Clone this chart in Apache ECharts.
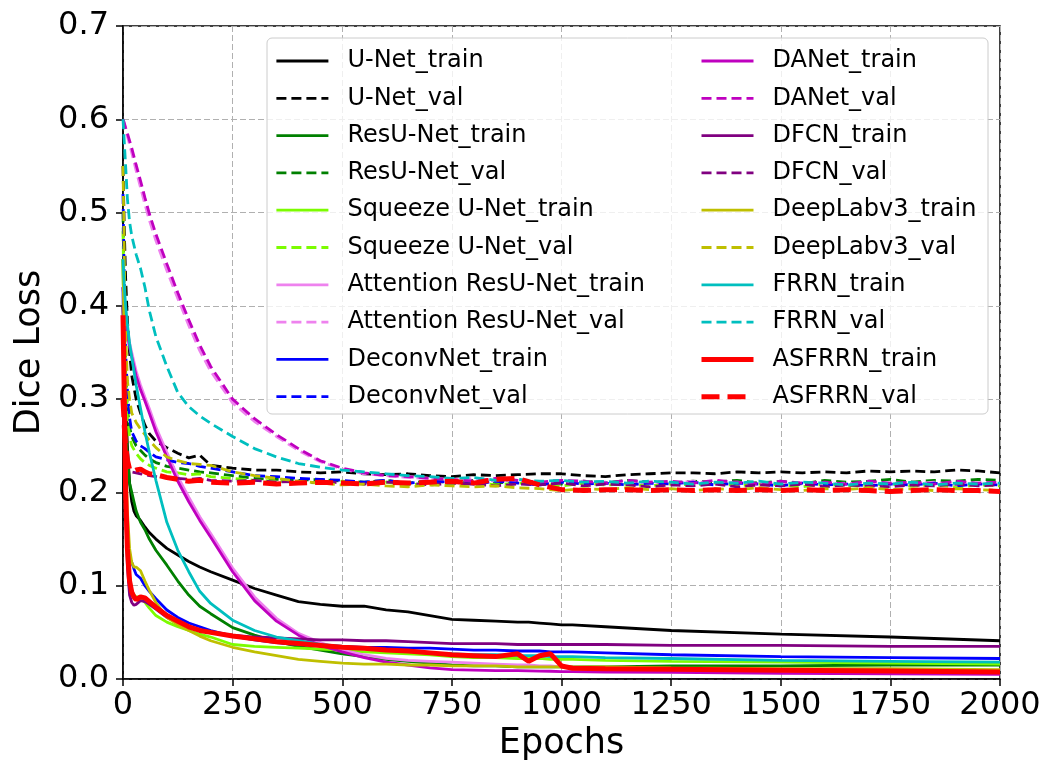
<!DOCTYPE html>
<html>
<head>
<meta charset="utf-8">
<script src="https://cdn.jsdelivr.net/npm/echarts@6/dist/echarts.min.js"></script>
<style>
html,body{margin:0;padding:0;background:#fff;}
#chart{width:1050px;height:783px;}
</style>
</head>
<body>
<div id="chart"></div>
<script>
// ---------- data ----------
const models = ['U-Net','ResU-Net','Squeeze U-Net','Attention ResU-Net','DeconvNet','DANet','DFCN','DeepLabv3','FRRN','ASFRRN'];
const xTicks = [0,250,500,750,1000,1250,1500,1750,2000];
const yTicks = [0.0,0.1,0.2,0.3,0.4,0.5,0.6,0.7];

const trainEpochs = [0,3,6,10,15,20,25,30,40,50,60,75,100,125,150,175,200,250,300,350,400,450,500,550,600,650,700,750,800,850,900,925,950,975,1000,1025,1100,1250,1500,1750,2000];
const valEpochs = [0,3,6,10,15,20,30,40,50,60,75,100,125,150,175,200,250,300,350,400,450,500,550,600,650,700,750,800,850,900,950,1000,1050,1100,1150,1200,1250,1300,1350,1400,1450,1500,1550,1600,1650,1700,1750,1800,1850,1900,1950,2000];

const unetTrain = [0.40,0.35,0.30,0.25,0.21,0.19,0.18,0.175,0.170,0.163,0.157,0.150,0.140,0.133,0.126,0.120,0.115,0.106,0.097,0.090,0.083,0.080,0.078,0.078,0.074,0.072,0.068,0.064,0.063,0.062,0.061,0.061,0.060,0.059,0.058,0.058,0.056,0.052,0.048,0.045,0.041];
const resunetTrain = [0.45,0.35,0.28,0.24,0.21,0.20,0.19,0.18,0.168,0.160,0.150,0.138,0.122,0.105,0.090,0.078,0.070,0.055,0.047,0.040,0.035,0.031,0.027,0.024,0.021,0.019,0.017,0.015,0.014,0.014,0.013,0.013,0.013,0.013,0.013,0.013,0.013,0.014,0.014,0.015,0.015];
const squeezeTrain = [0.45,0.30,0.20,0.14,0.11,0.095,0.09,0.088,0.088,0.082,0.076,0.068,0.061,0.056,0.052,0.048,0.045,0.037,0.035,0.034,0.033,0.032,0.031,0.029,0.028,0.027,0.026,0.024,0.023,0.023,0.022,0.022,0.022,0.021,0.021,0.021,0.020,0.019,0.018,0.017,0.016];
const attTrain = [0.42,0.405,0.39,0.375,0.36,0.35,0.34,0.33,0.315,0.302,0.290,0.270,0.243,0.217,0.195,0.174,0.156,0.119,0.088,0.065,0.049,0.039,0.031,0.026,0.022,0.020,0.019,0.018,0.017,0.016,0.015,0.015,0.014,0.014,0.013,0.013,0.012,0.010,0.008,0.007,0.006];
const deconvTrain = [0.42,0.30,0.20,0.15,0.13,0.125,0.118,0.112,0.108,0.100,0.094,0.086,0.074,0.066,0.060,0.056,0.052,0.046,0.042,0.039,0.037,0.036,0.035,0.034,0.034,0.033,0.033,0.032,0.031,0.031,0.030,0.030,0.030,0.029,0.029,0.029,0.028,0.026,0.024,0.023,0.022];
const danetTrain = [0.42,0.40,0.385,0.37,0.355,0.345,0.335,0.325,0.31,0.298,0.285,0.265,0.238,0.212,0.19,0.17,0.152,0.115,0.084,0.062,0.047,0.036,0.029,0.023,0.018,0.015,0.012,0.010,0.0095,0.009,0.009,0.0088,0.0085,0.0083,0.008,0.008,0.0075,0.007,0.006,0.0055,0.005];
const dfcnTrain = [0.40,0.28,0.18,0.12,0.09,0.082,0.079,0.080,0.084,0.083,0.080,0.075,0.066,0.060,0.056,0.052,0.050,0.047,0.045,0.044,0.043,0.042,0.042,0.041,0.041,0.040,0.039,0.038,0.038,0.038,0.037,0.037,0.037,0.037,0.037,0.037,0.037,0.036,0.036,0.035,0.035];
const deeplabTrain = [0.45,0.35,0.25,0.18,0.14,0.125,0.12,0.12,0.116,0.105,0.095,0.082,0.066,0.058,0.052,0.046,0.041,0.034,0.029,0.025,0.021,0.019,0.017,0.016,0.016,0.015,0.015,0.014,0.014,0.014,0.013,0.013,0.013,0.013,0.013,0.013,0.013,0.012,0.011,0.011,0.010];
const frrnTrain = [0.45,0.42,0.40,0.38,0.36,0.345,0.33,0.315,0.29,0.265,0.243,0.213,0.168,0.138,0.115,0.094,0.081,0.063,0.052,0.045,0.041,0.037,0.035,0.033,0.031,0.030,0.028,0.027,0.026,0.026,0.025,0.025,0.025,0.024,0.024,0.024,0.023,0.022,0.020,0.019,0.018];
const asfrrnTrain = [0.39,0.30,0.20,0.14,0.105,0.093,0.088,0.085,0.088,0.087,0.083,0.077,0.068,0.062,0.056,0.052,0.050,0.046,0.043,0.040,0.038,0.036,0.034,0.033,0.031,0.030,0.028,0.026,0.025,0.024,0.027,0.019,0.025,0.027,0.014,0.0115,0.011,0.0105,0.0095,0.0085,0.0075];

const unetVal = [0.55,0.48,0.43,0.385,0.35,0.325,0.30,0.285,0.272,0.263,0.255,0.248,0.242,0.237,0.240,0.229,0.226,0.224,0.224,0.222,0.221,0.222,0.220,0.219,0.220,0.218,0.217,0.219,0.218,0.219,0.220,0.220,0.218,0.217,0.219,0.220,0.221,0.221,0.220,0.222,0.221,0.222,0.221,0.222,0.221,0.223,0.222,0.223,0.222,0.224,0.223,0.221];
const resunetVal = [0.50,0.40,0.33,0.29,0.27,0.26,0.25,0.245,0.24,0.236,0.232,0.228,0.226,0.224,0.222,0.221,0.218,0.215,0.214,0.213,0.214,0.212,0.211,0.213,0.210,0.212,0.211,0.213,0.210,0.212,0.211,0.209,0.212,0.210,0.213,0.211,0.210,0.212,0.211,0.213,0.210,0.212,0.209,0.213,0.211,0.212,0.214,0.211,0.213,0.212,0.214,0.213];
const squeezeVal = [0.48,0.38,0.32,0.28,0.26,0.25,0.242,0.236,0.232,0.229,0.226,0.222,0.221,0.219,0.220,0.217,0.215,0.213,0.212,0.211,0.210,0.212,0.209,0.211,0.208,0.210,0.209,0.211,0.208,0.210,0.209,0.207,0.210,0.208,0.209,0.207,0.209,0.208,0.210,0.207,0.209,0.208,0.206,0.209,0.207,0.208,0.209,0.207,0.208,0.206,0.208,0.207];
const attVal = [0.600,0.595,0.589,0.582,0.573,0.564,0.545,0.527,0.509,0.492,0.470,0.438,0.408,0.379,0.352,0.330,0.296,0.276,0.260,0.245,0.233,0.225,0.220,0.218,0.216,0.215,0.213,0.215,0.212,0.213,0.211,0.210,0.212,0.211,0.209,0.211,0.210,0.212,0.209,0.211,0.210,0.208,0.211,0.209,0.210,0.208,0.210,0.209,0.211,0.208,0.210,0.209];
const deconvVal = [0.52,0.42,0.35,0.31,0.28,0.265,0.255,0.25,0.247,0.243,0.238,0.235,0.232,0.231,0.228,0.226,0.222,0.218,0.217,0.215,0.214,0.213,0.211,0.213,0.210,0.212,0.211,0.209,0.212,0.210,0.208,0.211,0.209,0.210,0.208,0.210,0.209,0.211,0.208,0.210,0.209,0.207,0.210,0.208,0.209,0.207,0.209,0.208,0.210,0.207,0.209,0.208];
const danetVal = [0.600,0.596,0.591,0.585,0.577,0.569,0.551,0.534,0.516,0.499,0.477,0.445,0.414,0.385,0.358,0.335,0.300,0.279,0.262,0.247,0.234,0.226,0.221,0.218,0.217,0.215,0.214,0.212,0.215,0.213,0.211,0.213,0.212,0.210,0.213,0.211,0.212,0.210,0.213,0.211,0.209,0.212,0.210,0.211,0.209,0.212,0.210,0.211,0.209,0.212,0.210,0.211];
const dfcnVal = [0.30,0.26,0.24,0.23,0.225,0.222,0.221,0.220,0.219,0.218,0.217,0.216,0.215,0.214,0.215,0.213,0.212,0.213,0.211,0.212,0.210,0.211,0.209,0.211,0.210,0.208,0.210,0.209,0.207,0.209,0.208,0.210,0.207,0.209,0.208,0.206,0.208,0.207,0.209,0.206,0.208,0.207,0.209,0.206,0.208,0.207,0.206,0.208,0.207,0.209,0.207,0.208];
const deeplabVal = [0.55,0.45,0.37,0.32,0.30,0.285,0.275,0.268,0.262,0.256,0.248,0.238,0.234,0.231,0.230,0.229,0.222,0.218,0.215,0.212,0.210,0.208,0.209,0.207,0.206,0.208,0.207,0.206,0.207,0.205,0.204,0.202,0.204,0.203,0.205,0.203,0.204,0.202,0.204,0.203,0.205,0.203,0.202,0.204,0.203,0.205,0.203,0.204,0.202,0.204,0.203,0.202];
const frrnVal = [0.60,0.575,0.55,0.515,0.49,0.475,0.455,0.44,0.42,0.395,0.367,0.335,0.307,0.292,0.282,0.274,0.260,0.247,0.238,0.231,0.227,0.224,0.222,0.220,0.218,0.217,0.215,0.216,0.213,0.214,0.212,0.213,0.211,0.212,0.210,0.212,0.211,0.209,0.211,0.210,0.212,0.209,0.211,0.210,0.208,0.210,0.209,0.211,0.208,0.210,0.209,0.210];
const asfrrnVal = [0.30,0.27,0.25,0.235,0.225,0.222,0.224,0.225,0.222,0.220,0.219,0.216,0.214,0.212,0.213,0.211,0.210,0.211,0.209,0.210,0.211,0.210,0.209,0.211,0.210,0.211,0.212,0.210,0.214,0.215,0.208,0.203,0.202,0.203,0.203,0.202,0.203,0.202,0.203,0.202,0.203,0.202,0.203,0.202,0.203,0.202,0.201,0.202,0.203,0.202,0.202,0.201];

const trainData = [unetTrain,resunetTrain,squeezeTrain,attTrain,deconvTrain,danetTrain,dfcnTrain,deeplabTrain,frrnTrain,asfrrnTrain];
const valData = [unetVal,resunetVal,squeezeVal,attVal,deconvVal,danetVal,dfcnVal,deeplabVal,frrnVal,asfrrnVal];

// ---------- styles ----------
const colors = ['#000000','#008000','#7CFC00','#EE82EE','#0000FF','#BF00BF','#800080','#BFBF00','#00BFBF','#FF0000'];
const FONT = 'DejaVu Sans';

const series = [];
const names = [];
models.forEach((m, i) => {
  const thick = m === 'ASFRRN';
  const w = thick ? 5 : 2.8;
  names.push(m + '_train', m + '_val');
  series.push({
    name: m + '_train', type: 'line', symbol: 'none', showSymbol: false, animation: false,
    data: trainEpochs.map((e, j) => [e, trainData[i][j]]),
    lineStyle: { color: colors[i], width: w, type: 'solid' },
    itemStyle: { color: colors[i] }
  });
  series.push({
    name: m + '_val', type: 'line', symbol: 'none', showSymbol: false, animation: false,
    data: valEpochs.map((e, j) => [e, valData[i][j]]),
    lineStyle: { color: colors[i], width: w, type: thick ? [18, 8] : [10, 5] },
    itemStyle: { color: colors[i] }
  });
});

const legendCommon = {
  orient: 'vertical', itemWidth: 52, itemHeight: 14, itemGap: 13.3,
  top: 49, padding: 0, backgroundColor: 'transparent', selectedMode: false,
  itemStyle: { opacity: 0 },
  lineStyle: { width: 'inherit', type: 'inherit' },
  textStyle: { fontFamily: FONT, fontSize: 24, color: '#000', lineHeight: 24, padding: [0, 0, 0, 14] }
};

const chart = echarts.init(document.getElementById('chart'), null, { renderer: 'canvas' });
chart.setOption({
  backgroundColor: '#fff',
  animation: false,
  grid: { left: 123, right: 50, top: 26, bottom: 104, show: true, borderColor: '#000', borderWidth: 1.5, backgroundColor: 'transparent' },
  graphic: [{
    type: 'rect', z: 3, silent: true,
    shape: { x: 267, y: 38, width: 721, height: 376, r: 5 },
    style: { fill: 'rgba(255,255,255,0.8)', stroke: '#cccccc', lineWidth: 1 }
  }],
  legend: [
    Object.assign({}, legendCommon, { left: 275, data: names.slice(0, 10) }),
    Object.assign({}, legendCommon, { left: 699, data: names.slice(10) })
  ],
  xAxis: {
    type: 'value', min: 0, max: 2000, interval: 250,
    name: 'Epochs', nameLocation: 'middle', nameGap: 46,
    nameTextStyle: { fontFamily: FONT, fontSize: 35, color: '#000' },
    axisLine: { show: true, lineStyle: { color: '#000', width: 1.5 } },
    axisTick: { show: true, length: 7, lineStyle: { color: '#000', width: 1.5 } },
    axisLabel: { fontFamily: FONT, fontSize: 32, color: '#000', margin: 11,
      formatter: v => xTicks.indexOf(v) >= 0 ? String(v) : '' },
    splitLine: { show: true, lineStyle: { color: '#b0b0b0', width: 1, type: [6, 3] } }
  },
  yAxis: {
    type: 'value', min: 0, max: 0.7, interval: 0.1,
    name: 'Dice Loss', nameLocation: 'middle', nameGap: 74,
    nameTextStyle: { fontFamily: FONT, fontSize: 35, color: '#000' },
    axisLine: { show: true, lineStyle: { color: '#000', width: 1.5 } },
    axisTick: { show: true, length: 7, lineStyle: { color: '#000', width: 1.5 } },
    axisLabel: { fontFamily: FONT, fontSize: 32, color: '#000', margin: 14,
      formatter: v => { const t = yTicks.find(y => Math.abs(y - v) < 1e-9); return t === undefined ? '' : t.toFixed(1); } },
    splitLine: { show: true, lineStyle: { color: '#b0b0b0', width: 1, type: [6, 3] } }
  },
  series: series
});
</script>
</body>
</html>
